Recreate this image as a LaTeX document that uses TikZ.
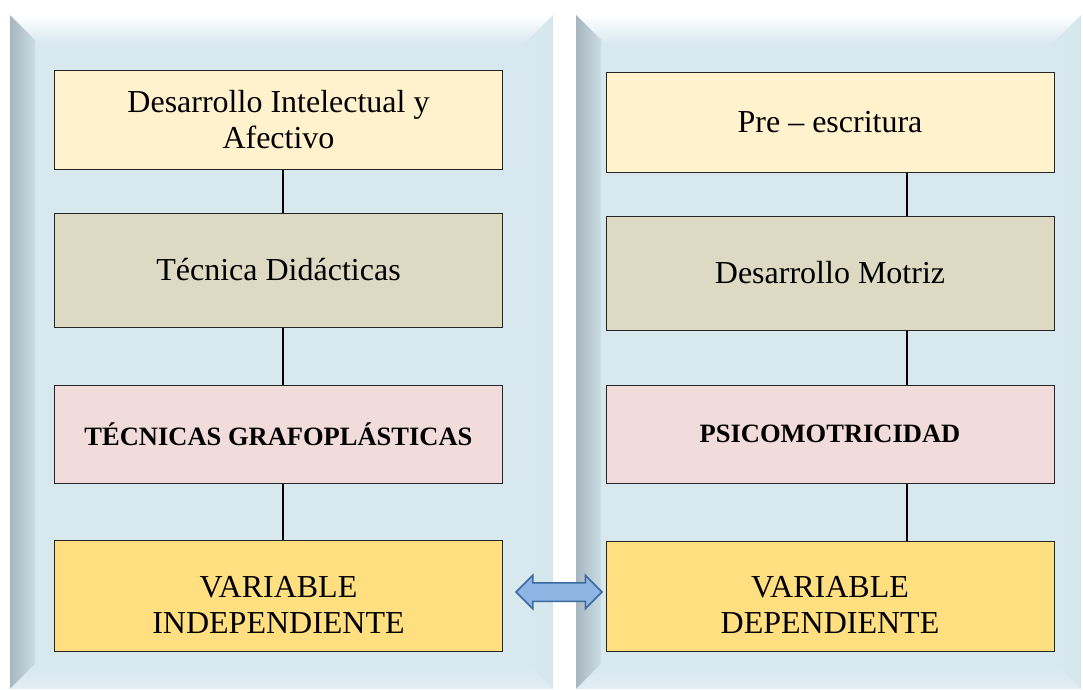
\documentclass[tikz,border=0pt]{standalone}
\usepackage{fontspec}
\setmainfont{Liberation Serif}
\usetikzlibrary{calc,positioning,shapes.arrows}

\definecolor{panelblue}{HTML}{D7E8EF}
\definecolor{bevelside}{HTML}{CADCE4}
\definecolor{beveledge}{HTML}{A7B7C0}
\definecolor{boxyellow}{HTML}{FFF2CC}
\definecolor{boxtan}{HTML}{DDD9C3}
\definecolor{boxpink}{HTML}{F2DCDB}
\definecolor{boxgold}{HTML}{FFDF80}
\definecolor{arrowfill}{HTML}{8DB4E2}
\definecolor{arrowdraw}{HTML}{3B6A9E}

\tikzset{
mybox/.style={
  draw=black!85,
  line width=1pt,
  minimum width=448pt,
  inner sep=0pt,
  align=center,
  font=\fontsize{32}{36}\selectfont,
  }
}
\tikzset{
boldbox/.style={
  mybox,
  font=\fontsize{26.5}{30}\selectfont\bfseries,
  }
}
\tikzset{
myline/.style={
  line width=1.6pt,
  black,
  }
}

\begin{document}
\begin{tikzpicture}[x=1pt,y=-1pt]
    \useasboundingbox (0,0) rectangle (1083,689);
    \fill[white] (0,0) rectangle (1083,689);

    % left panel
    \fill[panelblue] (10,15) rectangle (553,689);
    \shade[top color=white, bottom color=panelblue] (10,15) -- (553,15) -- (523,45) -- (40,45) -- cycle;
    \shade[left color=beveledge, right color=bevelside] (10,15) -- (35,40) -- (35,664) -- (10,689) -- cycle;
    \shade[left color=panelblue, right color=panelblue!85!bevelside] (553,15) -- (528,40) -- (528,664) -- (553,689) -- cycle;
    \shade[top color=panelblue, bottom color=panelblue!75!white] (35,664) -- (528,664) -- (553,689) -- (10,689) -- cycle;

    % right panel
    \fill[panelblue] (576,15) rectangle (1081,689);
    \shade[top color=white, bottom color=panelblue] (576,15) -- (1081,15) -- (1051,45) -- (606,45) -- cycle;
    \shade[left color=beveledge, right color=bevelside] (576,15) -- (601,40) -- (601,664) -- (576,689) -- cycle;
    \shade[left color=panelblue, right color=panelblue!85!bevelside] (1081,15) -- (1056,40) -- (1056,664) -- (1081,689) -- cycle;
    \shade[top color=panelblue, bottom color=panelblue!75!white] (601,664) -- (1056,664) -- (1081,689) -- (576,689) -- cycle;

    % left boxes
    \node[mybox, fill=boxyellow, minimum height=99pt] (l1) at (278.5,119.5) {Desarrollo Intelectual y\\Afectivo};
    \node[mybox, fill=boxtan, minimum height=114pt] (l2) at (278.5,270) {Técnica Didácticas};
    \node[boldbox, fill=boxpink, minimum height=98pt] (l3) at (278.5,434) {TÉCNICAS GRAFOPLÁSTICAS};
    \node[mybox, fill=boxgold, minimum height=111pt] (l4) at (278.5,595.5) {\rule{0pt}{40pt}VARIABLE\\INDEPENDIENTE};

    % right boxes
    \node[mybox, fill=boxyellow, minimum height=100pt] (r1) at (830,122) {Pre – escritura};
    \node[mybox, fill=boxtan, minimum height=114pt] (r2) at (830,273) {Desarrollo Motriz};
    \node[boldbox, fill=boxpink, minimum height=98pt] (r3) at (830,434) {PSICOMOTRICIDAD};
    \node[mybox, fill=boxgold, minimum height=110pt] (r4) at (830,596) {\rule{0pt}{40pt}VARIABLE\\DEPENDIENTE};

    % connector columns
    \coordinate (lx) at (283,0);
    \coordinate (rx) at (907,0);

    % left edges
    \draw[myline] (l1.south -| lx) -- (l2.north -| lx);
    \draw[myline] (l2.south -| lx) -- (l3.north -| lx);
    \draw[myline] (l3.south -| lx) -- (l4.north -| lx);

    % right edges
    \draw[myline] (r1.south -| rx) -- (r2.north -| rx);
    \draw[myline] (r2.south -| rx) -- (r3.north -| rx);
    \draw[myline] (r3.south -| rx) -- (r4.north -| rx);

    % link between variables
    \node[double arrow, draw=arrowdraw, line width=1.5pt, fill=arrowfill, inner xsep=0pt, inner ysep=8.5pt,
          minimum height=86pt, double arrow head extend=7.5pt] (link) at (559,592) {};
  \end{tikzpicture}
\end{document}
